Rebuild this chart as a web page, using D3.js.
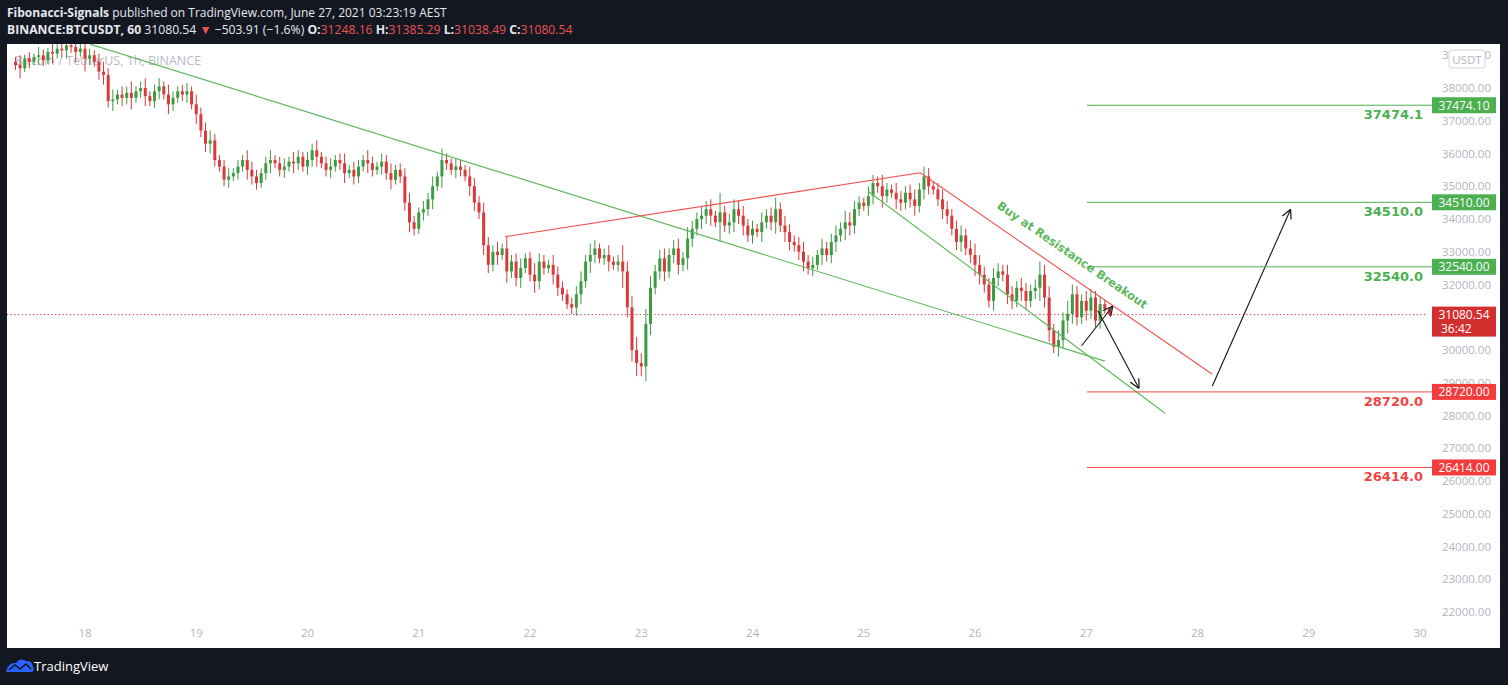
<!DOCTYPE html>
<html><head><meta charset="utf-8">
<script src="https://cdn.jsdelivr.net/npm/d3@7"></script>
<style>
body{margin:0;background:#131722;font-family:"Open Sans",sans-serif;}
</style></head>
<body><svg id="chart" width="1508" height="685"></svg>
<script>
// hourly closes, first candle at hour -15 relative to June 18 00:00
const startHour = -15;
const closes = [
38700,38600,38900,38800,38950,39000,38850,39100,39050,39200,39150,39300,
39250,39100,39200,38900,39000,38800,38500,38400,37600,37650,37800,37700,
37850,37700,37900,38000,37750,37600,37900,38050,37800,37500,37700,37900,
37800,37900,37500,37200,36700,36300,36400,35800,35600,35200,35300,35400,
35600,35800,35500,35300,35100,35400,35700,35800,35700,35500,35600,35750,
35700,35900,35600,35800,36100,35900,35700,35500,35600,35800,35700,35400,
35500,35300,35600,35800,35700,35500,35600,35750,35400,35200,35500,35300,
34500,33900,33700,34200,34300,34600,35000,35300,35800,35700,35500,35600,
35500,35300,35000,34500,34200,33200,32600,33000,32900,33100,32400,32700,
32200,32500,32800,32300,32100,32700,32500,32600,32300,31900,31700,31400,
31300,31700,32100,32700,32900,33100,32800,32900,32700,32600,32700,32400,
31300,30000,29600,29500,30800,31900,32400,32800,32400,32900,33100,32600,
32800,33400,33700,34000,34100,34300,34100,33900,34200,33800,33900,34300,
34100,33800,33500,33700,33600,33900,34100,33900,34300,33800,33600,33300,
33200,33000,32700,32500,32600,32900,33100,32900,33300,33500,33700,33900,
33800,34300,34500,34400,34700,35100,35000,34700,34900,34800,34600,34500,
34800,34600,34400,34900,35300,35000,34900,34600,34300,34100,33700,33300,
33500,33100,32900,32600,32300,32000,31500,32200,32400,32300,31700,31500,
31900,31800,31500,31800,31900,32300,31600,30600,30100,30300,30900,31100,
31700,31000,31500,31200,31600,30900,31400,31248,31080];
// wick extension beyond body (both sides), USDT
const wicks = [
150,300,120,200,100,250,180,120,300,150,200,250,
180,300,150,400,200,150,250,300,200,300,150,250,
200,350,150,200,300,150,200,250,150,300,200,150,
200,250,150,300,200,250,300,200,150,200,250,150,
200,150,300,250,200,150,200,300,150,200,250,150,
300,200,150,250,200,300,150,200,250,150,200,300,
150,250,200,150,300,200,150,250,200,300,150,200,
250,300,200,150,250,200,300,150,350,200,150,250,
200,150,300,250,200,300,250,200,300,150,350,200,
250,300,150,200,350,250,200,150,300,250,200,150,
200,250,300,200,350,250,150,200,300,150,200,500,
300,350,400,300,450,350,200,250,300,200,250,300,
200,350,250,200,300,250,300,150,600,200,250,300,
250,300,200,250,150,300,200,250,350,200,300,250,
200,250,300,200,250,150,300,200,250,300,200,350,
300,250,200,150,300,250,200,350,200,150,300,250,
200,250,300,200,300,250,150,200,300,250,200,250,
300,200,250,350,300,250,200,300,250,200,300,250,
200,300,250,200,250,400,300,350,200,300,250,400,
300,250,200,300,250,200,250,137,42];

const priceTicks = [22000,23000,24000,25000,26000,27000,28000,29000,30000,32000,33000,34000,35000,36000,37000,38000,39000];
const dayTicks = [18,19,20,21,22,23,24,25,26,27,28,29,30];
const levelsGreen = [37474.1, 34510.0, 32540.0];
const levelsRed = [28720.0, 26414.0];
const lastPrice = 31080.54;
// drawings: [hourFrom, priceFrom, hourTo, priceTo]
const greenLines = [[1.1, 39340, 220, 29660],[169, 34840, 233, 28070]];
const redLines = [[90.6, 33460, 180.2, 35410],[180.2, 35410, 243.2, 29260]];
const arrows = [[215, 30130, 221.6, 31320],[218.5, 31200, 227.3, 28850],[243.2, 28900, 260, 34270]];

const svg = d3.select("#chart");
const x = d3.scaleLinear().domain([0, 288]).range([85, 1420]);
const y = d3.scaleLinear().domain([22000, 38000]).range([612, 88]);
const up = "#3d9a40", dn = "#d8393a";

// chart background
svg.append("rect").attr("x",7).attr("y",44).attr("width",1493).attr("height",604).attr("fill","#fff");

// header
const h1 = svg.append("text").attr("x",7).attr("y",17).attr("fill","#e6e8ee").attr("font-size",12);
h1.append("tspan").attr("font-weight","bold").text("Fibonacci-Signals");
h1.append("tspan").text(" published on TradingView.com, June 27, 2021 03:23:19 AEST");
const h2 = svg.append("text").attr("x",7).attr("y",34).attr("fill","#e6e8ee").attr("font-size",12.2);
h2.append("tspan").attr("font-weight","bold").text("BINANCE:BTCUSDT, 60 ");
h2.append("tspan").text(" 31080.54 ");
h2.append("tspan").attr("fill","#ef5350").text("▼");
h2.append("tspan").text(" −503.91 (−1.6%) ");
[["O:","31248.16"],["H:","31385.29"],["L:","31038.49"],["C:","31080.54"]].forEach(([k,v])=>{
  h2.append("tspan").attr("font-weight","bold").text(k);
  h2.append("tspan").attr("fill","#ef5350").text(v+" ");
});

// footer
const logo = svg.append("g").attr("transform","translate(6,658)");
logo.append("path").attr("d","M0,14 Q2,4 10,5 Q14,-1 20,3 Q26,2 27,9 Q29,12 26,14 Z").attr("fill","#2962ff");
logo.append("path").attr("d","M3,12 L9,7 L14,11 L20,6 L25,11").attr("fill","none").attr("stroke","#131722").attr("stroke-width",1.6);
svg.append("text").attr("x",34).attr("y",671).attr("fill","#fff").attr("font-size",13).text("TradingView");

// watermark
svg.append("text").attr("x",15).attr("y",65).attr("fill","#b8bbc4").attr("font-size",12.5).text("Bitcoin / TetherUS, 1h, BINANCE");

// price axis labels
svg.append("g").selectAll("text").data(priceTicks).join("text")
  .attr("x",1491).attr("y",d=>y(d)+4).attr("text-anchor","end")
  .attr("fill","#b2b5be").attr("font-size",11.5).text(d=>d.toFixed(2));
svg.append("rect").attr("x",1449).attr("y",50).attr("width",36).attr("height",18).attr("rx",3)
  .attr("fill","#fff").attr("stroke","#d1d4dc");
svg.append("text").attr("x",1467).attr("y",63.5).attr("text-anchor","middle").attr("fill","#b2b5be").attr("font-size",11.5).text("USDT");

// date labels
svg.append("g").selectAll("text").data(dayTicks).join("text")
  .attr("x",d=>x((d-18)*24)).attr("y",637).attr("text-anchor","middle")
  .attr("fill","#b2b5be").attr("font-size",11.5).text(d=>d);

// clip for plot
svg.append("clipPath").attr("id","plot").append("rect").attr("x",7).attr("y",44).attr("width",1421).attr("height",604);
const plot = svg.append("g").attr("clip-path","url(#plot)");

// last price dotted line
plot.append("line").attr("x1",7).attr("x2",1428).attr("y1",y(lastPrice)).attr("y2",y(lastPrice))
  .attr("stroke","#c62828").attr("stroke-dasharray","1.2,2.5").attr("stroke-width",1);

// candles
const candles = closes.map((c,i)=>{
  const o = i===0 ? c+100 : closes[i-1];
  return {t:startHour+i, o, c, h:Math.max(o,c)+wicks[i], l:Math.min(o,c)-wicks[i]};
});
const cg = plot.append("g");
cg.selectAll("line").data(candles).join("line")
  .attr("x1",d=>x(d.t)).attr("x2",d=>x(d.t)).attr("y1",d=>y(d.h)).attr("y2",d=>y(d.l))
  .attr("stroke",d=>d.c>=d.o?up:dn).attr("stroke-width",1);
cg.selectAll("rect").data(candles).join("rect")
  .attr("x",d=>x(d.t)-1.5).attr("width",3)
  .attr("y",d=>y(Math.max(d.o,d.c))).attr("height",d=>Math.max(1,Math.abs(y(d.o)-y(d.c))))
  .attr("fill",d=>d.c>=d.o?up:dn);

// trend lines
const seg = (arr,col)=>plot.append("g").selectAll("line").data(arr).join("line")
  .attr("x1",d=>x(d[0])).attr("y1",d=>y(d[1])).attr("x2",d=>x(d[2])).attr("y2",d=>y(d[3]))
  .attr("stroke",col).attr("stroke-width",1.1);
seg(greenLines,"#5cb85c");
seg(redLines,"#f0504e");

// arrows
svg.append("defs").append("marker").attr("id","ah").attr("viewBox","0 0 10 10").attr("refX",9).attr("refY",5)
  .attr("markerWidth",9).attr("markerHeight",9).attr("orient","auto")
  .append("path").attr("d","M0,0 L10,5 L0,10").attr("fill","none").attr("stroke","#111").attr("stroke-width",1.2);
plot.append("g").selectAll("line").data(arrows).join("line")
  .attr("x1",d=>x(d[0])).attr("y1",d=>y(d[1])).attr("x2",d=>x(d[2])).attr("y2",d=>y(d[3]))
  .attr("stroke","#111").attr("stroke-width",1.1).attr("marker-end","url(#ah)");

// annotation text along red line
const ang = Math.atan2(y(redLines[1][3])-y(redLines[1][1]), x(redLines[1][2])-x(redLines[1][0]))*180/Math.PI;
plot.append("text").attr("transform",`translate(${x(212.5)},${y(32800)}) rotate(${ang})`)
  .attr("fill","#5cb85c").attr("font-weight","bold").attr("font-size",11.5)
  .attr("font-family","'DejaVu Sans',sans-serif").attr("text-anchor","middle").text("Buy at Resistance Breakout");

// horizontal levels
const levels = levelsGreen.map(v=>({v,col:"#4caf50"})).concat(levelsRed.map(v=>({v,col:"#f04443"})));
levels.forEach(d=>{
  plot.append("line").attr("x1",1087).attr("x2",1428).attr("y1",y(d.v)).attr("y2",y(d.v)).attr("stroke",d.col).attr("stroke-width",1);
  plot.append("text").attr("x",1423).attr("y",y(d.v)+14).attr("text-anchor","end").attr("fill",d.col)
    .attr("font-weight","bold").attr("font-size",13).attr("font-family","'DejaVu Sans',sans-serif").text(d.v.toFixed(1));
  svg.append("line").attr("x1",1428).attr("x2",1432).attr("y1",y(d.v)).attr("y2",y(d.v)).attr("stroke",d.col);
  svg.append("rect").attr("x",1432).attr("y",y(d.v)-8).attr("width",64).attr("height",16).attr("fill",d.col==="#4caf50"?"#4caf50":"#f23c3c");
  svg.append("text").attr("x",1464).attr("y",y(d.v)+4.5).attr("text-anchor","middle").attr("fill","#fff").attr("font-size",12).text(d.v.toFixed(2));
});

// last price tag
svg.append("rect").attr("x",1432).attr("y",y(lastPrice)-8).attr("width",64).attr("height",30).attr("fill","#d32f2f");
svg.append("text").attr("x",1464).attr("y",y(lastPrice)+4.5).attr("text-anchor","middle").attr("fill","#fff").attr("font-size",12).text(lastPrice.toFixed(2));
svg.append("text").attr("x",1441).attr("y",y(lastPrice)+18).attr("fill","#fff").attr("font-size",12).text("36:42");
</script></body></html>
